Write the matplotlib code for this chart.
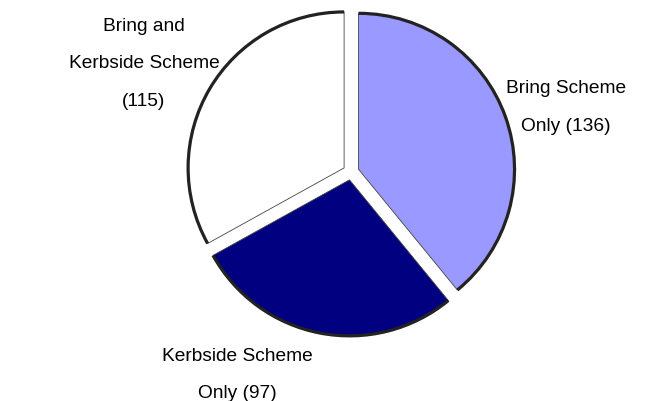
import matplotlib
matplotlib.use("Agg")
import matplotlib.pyplot as plt
from matplotlib.patches import Arc

categories = ["Bring Scheme Only", "Kerbside Scheme Only", "Bring and Kerbside Scheme"]
values = [136, 97, 115]
labels = ["Bring Scheme\nOnly (136)", "Kerbside Scheme\nOnly (97)", "Bring and\nKerbside Scheme\n(115)"]
colors = ["#9999FF", "#000080", "#FFFFFF"]

W, H = 659, 402
fig = plt.figure(figsize=(W / 100, H / 100), dpi=100)
ax = fig.add_axes([0, 0, 1, 1])

R = 156
wedges, _ = ax.pie(values, colors=colors, startangle=90, counterclock=False,
                   radius=R, center=(351, H - 173), explode=[8] * 3,
                   wedgeprops=dict(edgecolor="#444444", linewidth=0.6), frame=True)
ax.set_xlim(0, W)
ax.set_ylim(0, H)
ax.set_aspect("equal")
ax.axis("off")

for w in wedges:
    arc = Arc(w.center, 2 * w.r, 2 * w.r, theta1=w.theta1, theta2=w.theta2,
              color="#222222", linewidth=2.3)
    ax.add_patch(arc)

font = dict(family=["Liberation Sans", "DejaVu Sans"], fontsize=13.8, ha="center",
            va="center", linespacing=2.6, color="#000000")
ax.text(566, H - 107.5, labels[0], **font)
ax.text(237, H - 375, labels[1], **font)
ax.text(144, H - 64, labels[2], **font)

fig.savefig("out.png", dpi=100)
